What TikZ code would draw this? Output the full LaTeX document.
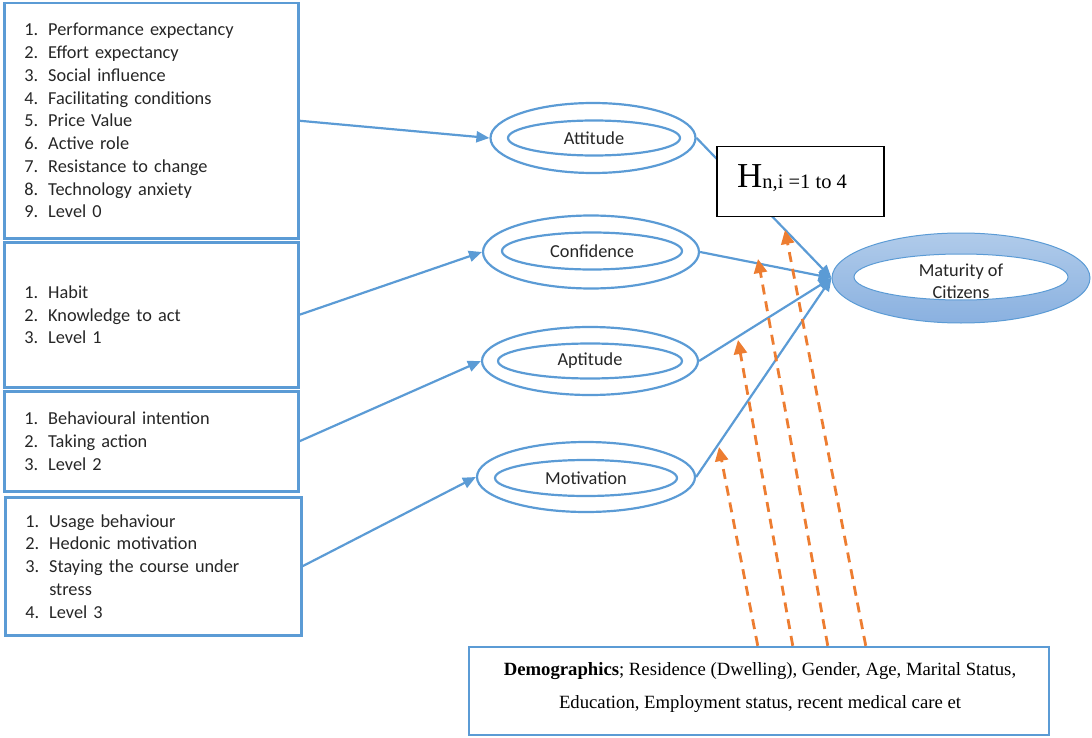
\documentclass[tikz,border=0pt]{standalone}
\usepackage{fontspec}
\setmainfont{Carlito}
\newfontfamily\tnr{Liberation Serif}
\usetikzlibrary{arrows.meta,shapes.geometric,calc}
\definecolor{mblue}{HTML}{5B9BD5}
\definecolor{morange}{HTML}{ED7D31}
\definecolor{mtop}{HTML}{B0CBEA}
\definecolor{mbot}{HTML}{8AB1E0}
\definecolor{txt}{HTML}{262626}
\newcommand\lsitem[2]{\makebox[24pt][l]{#1}#2}
\begin{document}
\begin{tikzpicture}[x=1pt,y=-1pt,
  listbox/.style={draw=mblue, line width=2.5pt, rectangle, anchor=north west,
    inner xsep=20pt, inner ysep=0pt, align=left, text=txt,
    font=\fontsize{18.3}{22.75}\selectfont},
  ellout/.style={draw=mblue, line width=2.2pt, ellipse, inner sep=0pt},
  ellin/.style={draw=mblue, line width=2.2pt, ellipse, inner sep=0pt, text=txt,
    font=\fontsize{18.3}{22.75}\selectfont},
  conn/.style={draw=mblue, line width=2.2pt, -{Triangle[length=13pt,width=11pt]}},
  demarrow/.style={draw=morange, line width=2.8pt, dash pattern=on 10pt off 7pt,
    -{Triangle[length=14pt,width=13pt]}}
]
\useasboundingbox (0,0) rectangle (1092,738);

% left boxes
\node[listbox, minimum width=294pt, minimum height=235pt, text width=254pt] (b1) at (3,2) {%
\lsitem{1.}{Performance expectancy}\\
\lsitem{2.}{Effort expectancy}\\
\lsitem{3.}{Social influence}\\
\lsitem{4.}{Facilitating conditions}\\
\lsitem{5.}{Price Value}\\
\lsitem{6.}{Active role}\\
\lsitem{7.}{Resistance to change}\\
\lsitem{8.}{Technology anxiety}\\
\lsitem{9.}{Level 0}};
\node[listbox, minimum width=294pt, minimum height=145pt, text width=254pt] (b2) at (3,241) {%
\lsitem{1.}{Habit}\\
\lsitem{2.}{Knowledge to act}\\
\lsitem{3.}{Level 1}};
\node[listbox, minimum width=294pt, minimum height=100pt, text width=254pt] (b3) at (3,390) {%
\lsitem{1.}{Behavioural intention}\\
\lsitem{2.}{Taking action}\\
\lsitem{3.}{Level 2}};
\node[listbox, minimum width=296pt, minimum height=138pt, text width=256pt] (b4) at (4,496) {%
\lsitem{1.}{Usage behaviour}\\
\lsitem{2.}{Hedonic motivation}\\
\lsitem{3.}{Staying the course under}\\
\hspace*{24pt}stress\\
\lsitem{4.}{Level 3}};

% ellipses
\node[ellout, minimum width=205pt, minimum height=70pt] (att) at (593,138) {};
\node[ellin, minimum width=172pt, minimum height=35pt] (atti) at (594,138) {Attitude};
\node[ellout, minimum width=216pt, minimum height=73pt] (con) at (591,252) {};
\node[ellin, minimum width=180pt, minimum height=37pt] (coni) at (592,251) {Confidence};
\node[ellout, minimum width=216pt, minimum height=68pt] (apt) at (590,361) {};
\node[ellin, minimum width=184pt, minimum height=35pt] (apti) at (590,361) {Aptitude};
\node[ellout, minimum width=218pt, minimum height=70pt] (mot) at (586,477) {};
\node[ellin, minimum width=182pt, minimum height=36pt] (moti) at (586,478) {Motivation};

% maturity
\node[ellipse, draw=mblue, line width=1pt, top color=mtop, bottom color=mbot,
  minimum width=258pt, minimum height=90pt, inner sep=0pt] (mat) at (961,278) {};
\node[ellipse, draw=mblue, line width=1pt, fill=white,
  minimum width=214pt, minimum height=46pt, inner sep=0pt] (mati) at (961,277) {};
\node[align=center, text=txt, inner sep=0pt, font=\fontsize{18.3}{22}\selectfont] (mattxt) at (961,281) {Maturity of\\Citizens};

% connectors
\draw[conn] (b1.east) -- (att.west);
\draw[conn] (b2.east) -- (con.west);
\draw[conn] (b3.east) -- (apt.west);
\draw[conn] (b4.east) -- (mot.west);
\draw[conn] (att.east) -- (mat.west);
\draw[conn] (con.east) -- (mat.west);
\draw[conn] (apt.east) -- (mat.west);
\draw[conn] (mot.east) -- (mat.west);

% hypothesis box
\node[draw=black, line width=1.3pt, fill=white, rectangle,
  minimum width=167pt, minimum height=70pt, inner sep=0pt] (hbox) at (800.5,181.5) {};
\node[anchor=base west, inner sep=0pt] (htxt) at (737,188)
  {{\tnr\fontsize{35}{35}\selectfont H}\raisebox{-1pt}{\tnr\fontsize{20.5}{20.5}\selectfont n,i =1 to 4}};

% demographics
\node[draw=mblue, line width=2.5pt, rectangle, minimum width=580pt, minimum height=88pt,
  inner sep=0pt] (demo) at (759,691) {};
\node[align=center, inner sep=0pt, font=\tnr\fontsize{18.7}{33}\selectfont] (demotxt) at (760,688)
  {\textbf{Demographics}; Residence (Dwelling), Gender, Age, Marital Status,\\
   Education, Employment status, recent medical care et};

\coordinate (t1) at (719,447);
\coordinate (t2) at (738,340);
\coordinate (t3) at (758,259);
\coordinate (t4) at (785,230);
\draw[demarrow] ($(demo.north west)+(290,0)$) -- (t1);
\draw[demarrow] ($(demo.north west)+(325,0)$) -- (t2);
\draw[demarrow] ($(demo.north west)+(360,0)$) -- (t3);
\draw[demarrow] ($(demo.north west)+(398,0)$) -- (t4);
\end{tikzpicture}
\end{document}
